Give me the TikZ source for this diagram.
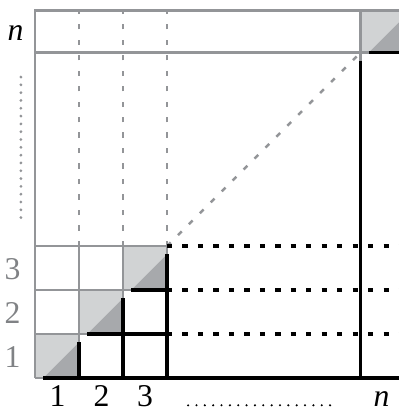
\documentclass[tikz,border=0pt]{standalone}
\usepackage{fontspec}
\setmainfont{Liberation Serif}

\begin{document}
\begin{tikzpicture}[font=\fontsize{20.5}{24}\selectfont,
  upper/.style={gridline,line width=1.8pt},
  lower/.style={black,line width=2.1pt},
  gapdash/.style={dash pattern=on 3.4pt off 6.6pt},
  numlabel/.style={anchor=base,inner sep=0pt}]
\definecolor{gridline}{RGB}{147,149,152}
\definecolor{lightcell}{RGB}{209,211,212}
\definecolor{darkcell}{RGB}{167,169,172}
\definecolor{sidelabel}{RGB}{128,130,133}

\useasboundingbox (-0.7955,-0.727) rectangle (8.25,8.591);

\coordinate (O) at (0,0);
\coordinate (T) at (3,3);
\coordinate (N) at (7.4,7.4);
\coordinate (E) at (8.36,8.36);

% Diagonal cells: light square, darker part under the diagonal.
\fill[lightcell] (0,0) rectangle (1,1);
\fill[lightcell] (1,1) rectangle (2,2);
\fill[lightcell] (2,2) rectangle (3,3);
\fill[lightcell] (N) rectangle (E);
\fill[darkcell] (0.19,0)--(1,0)--(1,0.81)--cycle;
\fill[darkcell] (1.19,1)--(2,1)--(2,1.81)--cycle;
\fill[darkcell] (2.19,2)--(3,2)--(3,2.81)--cycle;
\fill[darkcell] (7.59,7.4)--(8.36,7.4)--(8.36,8.17)--cycle;

% Grid above the diagonal (grey).
\draw[upper] (0,0)--(0,8.36)--(8.36,8.36);
\draw[upper] (0,7.4)--(7.59,7.4);
\draw[upper] (7.4,7.21)--(7.4,8.36);
\draw[upper] (0,0)--(0.19,0);
\draw[upper] (0,1)--(1.19,1);
\draw[upper] (0,2)--(2.19,2);
\draw[upper] (0,3)--(T);
\draw[upper] (1,0.81)--(1,3);
\draw[upper] (2,1.81)--(2,3);
\draw[upper] (3,2.81)--(T);
\draw[upper,gapdash] (1,3)--(1,8.36);
\draw[upper,gapdash] (2,3)--(2,8.36);
\draw[upper,gapdash] (3,3)--(3,8.36);
\draw[upper,line width=1.6pt,gapdash] (T)--(N);

% Grid below the diagonal (black).
\draw[lower] (0.19,0)--(8.36,0);
\draw[lower] (1.19,1)--(3,1);
\draw[lower] (2.19,2)--(3,2);
\draw[lower] (1,0)--(1,0.81);
\draw[lower] (2,0)--(2,1.81);
\draw[lower] (3,0)--(3,2.81);
\draw[lower] (7.4,0)--(7.4,7.21);
\draw[lower] (7.59,7.4)--(8.36,7.4);
\draw[lower,gapdash] (3,1)--(8.36,1);
\draw[lower,gapdash] (3,2)--(8.36,2);
\draw[lower,gapdash] (3,3)--(8.36,3);

% Omitted rows and columns.
\draw[gridline,line width=2pt,line cap=round,dash pattern=on 0pt off 5.05pt]
  (-0.32,6.84)--(-0.32,3.48);
\draw[black,line width=1.5pt,line cap=round,dash pattern=on 0pt off 5.4pt]
  (3.48,-0.62)--(6.89,-0.62);

% Row and column numbers.
\node[numlabel] (nrow) at (-0.44,7.68) {\textit{n}};
\node[numlabel,sidelabel] (row3) at (-0.51,2.23) {3};
\node[numlabel,sidelabel] (row2) at (-0.51,1.25) {2};
\node[numlabel,sidelabel] (row1) at (-0.51,0.23) {1};
\node[numlabel] (col1) at (0.51,-0.64) {1};
\node[numlabel] (col2) at (1.51,-0.64) {2};
\node[numlabel] (col3) at (2.5,-0.64) {3};
\node[numlabel] (ncol) at (7.875,-0.64) {\textit{n}};
\end{tikzpicture}
\end{document}
